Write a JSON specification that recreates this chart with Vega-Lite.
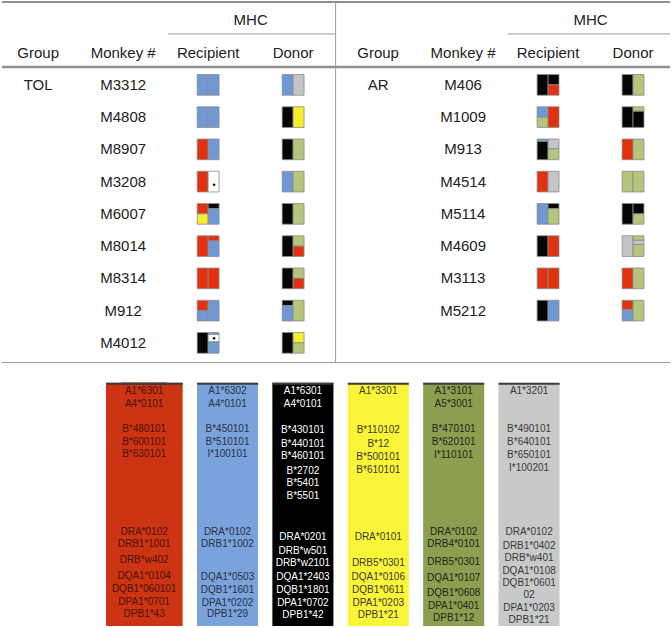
{
  "$schema": "https://vega.github.io/schema/vega-lite/v6.json",
  "width": 672,
  "height": 628,
  "autosize": {"type": "fit", "contains": "padding"},
  "padding": 0,
  "background": "white",
  "config": {"view": {"stroke": null}, "text": {"font": "Liberation Sans"}},
  "datasets": {
    "one": [{}],
    "cells": [
      {"t": "MHC", "c": 2.5, "r": -2}, {"t": "MHC", "c": 6.5, "r": -2},
      {"t": "Group", "c": 0, "r": -1}, {"t": "Monkey #", "c": 1, "r": -1}, {"t": "Recipient", "c": 2, "r": -1}, {"t": "Donor", "c": 3, "r": -1},
      {"t": "Group", "c": 4, "r": -1}, {"t": "Monkey #", "c": 5, "r": -1}, {"t": "Recipient", "c": 6, "r": -1}, {"t": "Donor", "c": 7, "r": -1},
      {"t": "TOL", "c": 0, "r": 0}, {"t": "AR", "c": 4, "r": 0},
      {"t": "M3312", "c": 1, "r": 0}, {"t": "M4808", "c": 1, "r": 1}, {"t": "M8907", "c": 1, "r": 2}, {"t": "M3208", "c": 1, "r": 3},
      {"t": "M6007", "c": 1, "r": 4}, {"t": "M8014", "c": 1, "r": 5}, {"t": "M8314", "c": 1, "r": 6}, {"t": "M912", "c": 1, "r": 7}, {"t": "M4012", "c": 1, "r": 8},
      {"t": "M406", "c": 5, "r": 0}, {"t": "M1009", "c": 5, "r": 1}, {"t": "M913", "c": 5, "r": 2}, {"t": "M4514", "c": 5, "r": 3},
      {"t": "M5114", "c": 5, "r": 4}, {"t": "M4609", "c": 5, "r": 5}, {"t": "M3113", "c": 5, "r": 6}, {"t": "M5212", "c": 5, "r": 7}
    ],
    "glyph": [
      {"c": 2, "r": 0, "h": 0, "f0": 0, "f1": 1, "a": "blue"}, {"c": 2, "r": 0, "h": 1, "f0": 0, "f1": 1, "a": "blue"},
      {"c": 3, "r": 0, "h": 0, "f0": 0, "f1": 1, "a": "blue"}, {"c": 3, "r": 0, "h": 1, "f0": 0, "f1": 1, "a": "gray"},
      {"c": 2, "r": 1, "h": 0, "f0": 0, "f1": 1, "a": "blue"}, {"c": 2, "r": 1, "h": 1, "f0": 0, "f1": 1, "a": "blue"},
      {"c": 3, "r": 1, "h": 0, "f0": 0, "f1": 1, "a": "black"}, {"c": 3, "r": 1, "h": 1, "f0": 0, "f1": 1, "a": "yellow"},
      {"c": 2, "r": 2, "h": 0, "f0": 0, "f1": 1, "a": "red"}, {"c": 2, "r": 2, "h": 1, "f0": 0, "f1": 1, "a": "blue"},
      {"c": 3, "r": 2, "h": 0, "f0": 0, "f1": 1, "a": "black"}, {"c": 3, "r": 2, "h": 1, "f0": 0, "f1": 1, "a": "green"},
      {"c": 2, "r": 3, "h": 0, "f0": 0, "f1": 1, "a": "red"}, {"c": 2, "r": 3, "h": 1, "f0": 0, "f1": 1, "a": "white"},
      {"c": 3, "r": 3, "h": 0, "f0": 0, "f1": 1, "a": "blue"}, {"c": 3, "r": 3, "h": 1, "f0": 0, "f1": 1, "a": "green"},
      {"c": 2, "r": 4, "h": 0, "f0": 0, "f1": 0.5, "a": "red"}, {"c": 2, "r": 4, "h": 0, "f0": 0.5, "f1": 1, "a": "yellow"},
      {"c": 2, "r": 4, "h": 1, "f0": 0, "f1": 0.25, "a": "black"}, {"c": 2, "r": 4, "h": 1, "f0": 0.25, "f1": 1, "a": "blue"},
      {"c": 3, "r": 4, "h": 0, "f0": 0, "f1": 1, "a": "black"}, {"c": 3, "r": 4, "h": 1, "f0": 0, "f1": 1, "a": "green"},
      {"c": 2, "r": 5, "h": 0, "f0": 0, "f1": 1, "a": "red"},
      {"c": 2, "r": 5, "h": 1, "f0": 0, "f1": 0.25, "a": "red"}, {"c": 2, "r": 5, "h": 1, "f0": 0.25, "f1": 1, "a": "blue"},
      {"c": 3, "r": 5, "h": 0, "f0": 0, "f1": 1, "a": "black"},
      {"c": 3, "r": 5, "h": 1, "f0": 0, "f1": 0.5, "a": "green"}, {"c": 3, "r": 5, "h": 1, "f0": 0.5, "f1": 1, "a": "red"},
      {"c": 2, "r": 6, "h": 0, "f0": 0, "f1": 1, "a": "red"}, {"c": 2, "r": 6, "h": 1, "f0": 0, "f1": 1, "a": "red"},
      {"c": 3, "r": 6, "h": 0, "f0": 0, "f1": 1, "a": "black"},
      {"c": 3, "r": 6, "h": 1, "f0": 0, "f1": 0.5, "a": "green"}, {"c": 3, "r": 6, "h": 1, "f0": 0.5, "f1": 1, "a": "red"},
      {"c": 2, "r": 7, "h": 0, "f0": 0, "f1": 0.5, "a": "red"}, {"c": 2, "r": 7, "h": 0, "f0": 0.5, "f1": 1, "a": "blue"},
      {"c": 2, "r": 7, "h": 1, "f0": 0, "f1": 1, "a": "blue"},
      {"c": 3, "r": 7, "h": 0, "f0": 0, "f1": 0.25, "a": "black"}, {"c": 3, "r": 7, "h": 0, "f0": 0.25, "f1": 1, "a": "blue"},
      {"c": 3, "r": 7, "h": 1, "f0": 0, "f1": 1, "a": "green"},
      {"c": 2, "r": 8, "h": 0, "f0": 0, "f1": 1, "a": "black"},
      {"c": 2, "r": 8, "h": 1, "f0": 0, "f1": 0.1, "a": "blue"}, {"c": 2, "r": 8, "h": 1, "f0": 0.1, "f1": 0.45, "a": "white"}, {"c": 2, "r": 8, "h": 1, "f0": 0.45, "f1": 1, "a": "blue"},
      {"c": 3, "r": 8, "h": 0, "f0": 0, "f1": 1, "a": "black"},
      {"c": 3, "r": 8, "h": 1, "f0": 0, "f1": 0.5, "a": "yellow"}, {"c": 3, "r": 8, "h": 1, "f0": 0.5, "f1": 1, "a": "green"},

      {"c": 6, "r": 0, "h": 0, "f0": 0, "f1": 1, "a": "black"},
      {"c": 6, "r": 0, "h": 1, "f0": 0, "f1": 0.5, "a": "black"}, {"c": 6, "r": 0, "h": 1, "f0": 0.5, "f1": 1, "a": "red"},
      {"c": 7, "r": 0, "h": 0, "f0": 0, "f1": 1, "a": "black"}, {"c": 7, "r": 0, "h": 1, "f0": 0, "f1": 1, "a": "green"},
      {"c": 6, "r": 1, "h": 0, "f0": 0, "f1": 0.5, "a": "blue"}, {"c": 6, "r": 1, "h": 0, "f0": 0.5, "f1": 1, "a": "green"},
      {"c": 6, "r": 1, "h": 1, "f0": 0, "f1": 1, "a": "red"},
      {"c": 7, "r": 1, "h": 0, "f0": 0, "f1": 1, "a": "black"},
      {"c": 7, "r": 1, "h": 1, "f0": 0, "f1": 0.22, "a": "green"}, {"c": 7, "r": 1, "h": 1, "f0": 0.22, "f1": 1, "a": "black"},
      {"c": 6, "r": 2, "h": 0, "f0": 0, "f1": 0.12, "a": "blue"}, {"c": 6, "r": 2, "h": 0, "f0": 0.12, "f1": 1, "a": "black"},
      {"c": 6, "r": 2, "h": 1, "f0": 0, "f1": 0.47, "a": "gray"}, {"c": 6, "r": 2, "h": 1, "f0": 0.47, "f1": 1, "a": "green"},
      {"c": 7, "r": 2, "h": 0, "f0": 0, "f1": 1, "a": "red"}, {"c": 7, "r": 2, "h": 1, "f0": 0, "f1": 1, "a": "green"},
      {"c": 6, "r": 3, "h": 0, "f0": 0, "f1": 1, "a": "red"}, {"c": 6, "r": 3, "h": 1, "f0": 0, "f1": 1, "a": "gray"},
      {"c": 7, "r": 3, "h": 0, "f0": 0, "f1": 1, "a": "green"}, {"c": 7, "r": 3, "h": 1, "f0": 0, "f1": 1, "a": "green"},
      {"c": 6, "r": 4, "h": 0, "f0": 0, "f1": 1, "a": "blue"},
      {"c": 6, "r": 4, "h": 1, "f0": 0, "f1": 0.25, "a": "black"}, {"c": 6, "r": 4, "h": 1, "f0": 0.25, "f1": 1, "a": "green"},
      {"c": 7, "r": 4, "h": 0, "f0": 0, "f1": 1, "a": "black"},
      {"c": 7, "r": 4, "h": 1, "f0": 0, "f1": 0.5, "a": "black"}, {"c": 7, "r": 4, "h": 1, "f0": 0.5, "f1": 1, "a": "green"},
      {"c": 6, "r": 5, "h": 0, "f0": 0, "f1": 1, "a": "black"}, {"c": 6, "r": 5, "h": 1, "f0": 0, "f1": 1, "a": "red"},
      {"c": 7, "r": 5, "h": 0, "f0": 0, "f1": 1, "a": "gray"},
      {"c": 7, "r": 5, "h": 1, "f0": 0, "f1": 0.22, "a": "green"}, {"c": 7, "r": 5, "h": 1, "f0": 0.22, "f1": 0.42, "a": "gray"}, {"c": 7, "r": 5, "h": 1, "f0": 0.42, "f1": 1, "a": "green"},
      {"c": 6, "r": 6, "h": 0, "f0": 0, "f1": 1, "a": "red"}, {"c": 6, "r": 6, "h": 1, "f0": 0, "f1": 1, "a": "red"},
      {"c": 7, "r": 6, "h": 0, "f0": 0, "f1": 1, "a": "red"}, {"c": 7, "r": 6, "h": 1, "f0": 0, "f1": 1, "a": "green"},
      {"c": 6, "r": 7, "h": 0, "f0": 0, "f1": 1, "a": "black"}, {"c": 6, "r": 7, "h": 1, "f0": 0, "f1": 1, "a": "blue"},
      {"c": 7, "r": 7, "h": 0, "f0": 0, "f1": 0.45, "a": "red"}, {"c": 7, "r": 7, "h": 0, "f0": 0.45, "f1": 1, "a": "blue"},
      {"c": 7, "r": 7, "h": 1, "f0": 0, "f1": 1, "a": "green"}
    ],
    "marks": [{"c": 2, "r": 3, "f": 0.65}, {"c": 2, "r": 8, "f": 0.28}],
    "alleles": [{"a": "red"}, {"a": "blue"}, {"a": "black"}, {"a": "yellow"}, {"a": "green"}, {"a": "gray"}],
    "lines": [
      {"a": "red", "L": 0, "t": "A1*6301"}, {"a": "red", "L": 1, "t": "A4*0101"},
      {"a": "red", "L": 2.96, "t": "B*480101"}, {"a": "red", "L": 4.02, "t": "B*600101"}, {"a": "red", "L": 5.0, "t": "B*630101"},
      {"a": "red", "L": 11.1, "t": "DRA*0102"}, {"a": "red", "L": 12.07, "t": "DRB1*1001"}, {"a": "red", "L": 13.33, "t": "DRB*w402"},
      {"a": "red", "L": 14.59, "t": "DQA1*0104"}, {"a": "red", "L": 15.61, "t": "DQB1*060101"}, {"a": "red", "L": 16.61, "t": "DPA1*0701"}, {"a": "red", "L": 17.58, "t": "DPB1*43"},
      {"a": "blue", "L": 0, "t": "A1*6302"}, {"a": "blue", "L": 1, "t": "A4*0101"},
      {"a": "blue", "L": 2.96, "t": "B*450101"}, {"a": "blue", "L": 4.02, "t": "B*510101"}, {"a": "blue", "L": 5.0, "t": "I*100101"},
      {"a": "blue", "L": 11.1, "t": "DRA*0102"}, {"a": "blue", "L": 12.07, "t": "DRB1*1002"},
      {"a": "blue", "L": 14.65, "t": "DQA1*0503"}, {"a": "blue", "L": 15.69, "t": "DQB1*1601"}, {"a": "blue", "L": 16.69, "t": "DPA1*0202"}, {"a": "blue", "L": 17.62, "t": "DPB1*29"},
      {"a": "black", "L": 0, "t": "A1*6301"}, {"a": "black", "L": 1, "t": "A4*0101"},
      {"a": "black", "L": 3.04, "t": "B*430101"}, {"a": "black", "L": 4.14, "t": "B*440101"}, {"a": "black", "L": 5.12, "t": "B*460101"},
      {"a": "black", "L": 6.3, "t": "B*2702"}, {"a": "black", "L": 7.29, "t": "B*5401"}, {"a": "black", "L": 8.29, "t": "B*5501"},
      {"a": "black", "L": 11.5, "t": "DRA*0201"}, {"a": "black", "L": 12.6, "t": "DRB*w501"}, {"a": "black", "L": 13.59, "t": "DRB*w2101"},
      {"a": "black", "L": 14.65, "t": "DQA1*2403"}, {"a": "black", "L": 15.69, "t": "DQB1*1801"}, {"a": "black", "L": 16.69, "t": "DPA1*0702"}, {"a": "black", "L": 17.66, "t": "DPB1*42"},
      {"a": "yellow", "L": 0, "t": "A1*3301"},
      {"a": "yellow", "L": 3.09, "t": "B*110102"}, {"a": "yellow", "L": 4.2, "t": "B*12"}, {"a": "yellow", "L": 5.2, "t": "B*500101"}, {"a": "yellow", "L": 6.24, "t": "B*610101"},
      {"a": "yellow", "L": 11.5, "t": "DRA*0101"}, {"a": "yellow", "L": 13.54, "t": "DRB5*0301"},
      {"a": "yellow", "L": 14.65, "t": "DQA1*0106"}, {"a": "yellow", "L": 15.69, "t": "DQB1*0611"}, {"a": "yellow", "L": 16.69, "t": "DPA1*0203"}, {"a": "yellow", "L": 17.66, "t": "DPB1*21"},
      {"a": "green", "L": 0, "t": "A1*3101"}, {"a": "green", "L": 1, "t": "A5*3001"},
      {"a": "green", "L": 3.02, "t": "B*470101"}, {"a": "green", "L": 4.06, "t": "B*620101"}, {"a": "green", "L": 5.06, "t": "I*110101"},
      {"a": "green", "L": 11.1, "t": "DRA*0102"}, {"a": "green", "L": 12.09, "t": "DRB4*0101"}, {"a": "green", "L": 13.46, "t": "DRB5*0301"},
      {"a": "green", "L": 14.77, "t": "DQA1*0107"}, {"a": "green", "L": 15.91, "t": "DQB1*0608"}, {"a": "green", "L": 16.95, "t": "DPA1*0401"}, {"a": "green", "L": 17.9, "t": "DPB1*12"},
      {"a": "gray", "L": 0, "t": "A1*3201"},
      {"a": "gray", "L": 2.99, "t": "B*490101"}, {"a": "gray", "L": 4.06, "t": "B*640101"}, {"a": "gray", "L": 5.06, "t": "B*650101"}, {"a": "gray", "L": 6.06, "t": "I*100201"},
      {"a": "gray", "L": 11.15, "t": "DRA*0102"}, {"a": "gray", "L": 12.2, "t": "DRB1*0402"}, {"a": "gray", "L": 13.2, "t": "DRB*w401"},
      {"a": "gray", "L": 14.17, "t": "DQA1*0108"}, {"a": "gray", "L": 15.17, "t": "DQB1*0601"}, {"a": "gray", "L": 16.09, "t": "02"},
      {"a": "gray", "L": 17.09, "t": "DPA1*0203"}, {"a": "gray", "L": 18.06, "t": "DPB1*21"}
    ]
  },
  "layer": [
    {
      "layer": [
        {
          "data": {"name": "one"},
          "mark": {"type": "rule", "color": "#8f8f8f", "strokeWidth": 2},
          "encoding": {
            "x": {"datum": -0.4258, "type": "quantitative", "scale": {"domain": [-0.4258, 7.435], "nice": false, "zero": false}, "axis": null},
            "x2": {"datum": 7.435},
            "y": {"datum": -2.57, "type": "quantitative", "scale": {"domain": [-2.6006, 16.842], "reverse": true, "nice": false, "zero": false}, "axis": null}
          }
        },
        {
          "data": {"name": "one"},
          "mark": {"type": "rule", "color": "#8f8f8f", "strokeWidth": 2.5},
          "encoding": {
            "x": {"datum": -0.4258, "type": "quantitative", "scale": {"domain": [-0.4258, 7.435], "nice": false, "zero": false}, "axis": null},
            "x2": {"datum": 7.435},
            "y": {"datum": -0.557, "type": "quantitative", "scale": {"domain": [-2.6006, 16.842], "reverse": true, "nice": false, "zero": false}, "axis": null}
          }
        },
        {
          "data": {"name": "one"},
          "mark": {"type": "rule", "color": "#9a9a9a", "strokeWidth": 1},
          "encoding": {
            "x": {"datum": -0.4258, "type": "quantitative", "scale": {"domain": [-0.4258, 7.435], "nice": false, "zero": false}, "axis": null},
            "x2": {"datum": 7.435},
            "y": {"datum": 8.61, "type": "quantitative", "scale": {"domain": [-2.6006, 16.842], "reverse": true, "nice": false, "zero": false}, "axis": null}
          }
        },
        {
          "data": {"name": "one"},
          "mark": {"type": "rule", "color": "#9a9a9a", "strokeWidth": 1},
          "encoding": {
            "x": {"datum": 1.53, "type": "quantitative", "scale": {"domain": [-0.4258, 7.435], "nice": false, "zero": false}, "axis": null},
            "x2": {"datum": 3.5},
            "y": {"datum": -1.579, "type": "quantitative", "scale": {"domain": [-2.6006, 16.842], "reverse": true, "nice": false, "zero": false}, "axis": null}
          }
        },
        {
          "data": {"name": "one"},
          "mark": {"type": "rule", "color": "#9a9a9a", "strokeWidth": 1},
          "encoding": {
            "x": {"datum": 5.53, "type": "quantitative", "scale": {"domain": [-0.4258, 7.435], "nice": false, "zero": false}, "axis": null},
            "x2": {"datum": 7.435},
            "y": {"datum": -1.579, "type": "quantitative", "scale": {"domain": [-2.6006, 16.842], "reverse": true, "nice": false, "zero": false}, "axis": null}
          }
        },
        {
          "data": {"name": "one"},
          "mark": {"type": "rule", "color": "#9a9a9a", "strokeWidth": 1},
          "encoding": {
            "x": {"datum": 3.5, "type": "quantitative", "scale": {"domain": [-0.4258, 7.435], "nice": false, "zero": false}, "axis": null},
            "y": {"datum": -2.6, "type": "quantitative", "scale": {"domain": [-2.6006, 16.842], "reverse": true, "nice": false, "zero": false}, "axis": null},
            "y2": {"datum": 8.61}
          }
        },
        {
          "data": {"name": "cells"},
          "mark": {"type": "text", "fontSize": 15, "color": "#222222", "align": "center", "baseline": "middle", "font": "Liberation Sans"},
          "encoding": {
            "x": {"field": "c", "type": "quantitative", "scale": {"domain": [-0.4258, 7.435], "nice": false, "zero": false}, "axis": null},
            "y": {"field": "r", "type": "quantitative", "scale": {"domain": [-2.6006, 16.842], "reverse": true, "nice": false, "zero": false}, "axis": null},
            "text": {"field": "t"}
          }
        },
        {
          "data": {"name": "glyph"},
          "transform": [
            {"calculate": "datum.c + (datum.h - 1) * 0.1287", "as": "x0"},
            {"calculate": "datum.c + datum.h * 0.1287", "as": "x1"},
            {"calculate": "datum.r - 0.32 + datum.f0 * 0.641", "as": "y0"},
            {"calculate": "datum.r - 0.32 + datum.f1 * 0.641", "as": "y1"}
          ],
          "mark": {"type": "rect", "stroke": "#8a8a8a", "strokeWidth": 0.8},
          "encoding": {
            "x": {"field": "x0", "type": "quantitative", "scale": {"domain": [-0.4258, 7.435], "nice": false, "zero": false}, "axis": null},
            "x2": {"field": "x1"},
            "y": {"field": "y0", "type": "quantitative", "scale": {"domain": [-2.6006, 16.842], "reverse": true, "nice": false, "zero": false}, "axis": null},
            "y2": {"field": "y1"},
            "color": {"field": "a", "type": "nominal", "legend": null,
              "scale": {"domain": ["red", "blue", "black", "yellow", "green", "gray", "white"],
                        "range": ["#e0320f", "#6f98d4", "#050505", "#f6ee2a", "#b5c57b", "#c5c5c5", "#ffffff"]}}
          }
        },
        {
          "data": {"name": "marks"},
          "transform": [
            {"calculate": "datum.c + 0.07", "as": "mx"},
            {"calculate": "datum.r - 0.32 + datum.f * 0.641", "as": "my"}
          ],
          "mark": {"type": "point", "filled": true, "shape": "circle", "size": 7, "color": "#111111", "opacity": 1},
          "encoding": {
            "x": {"field": "mx", "type": "quantitative", "scale": {"domain": [-0.4258, 7.435], "nice": false, "zero": false}, "axis": null},
            "y": {"field": "my", "type": "quantitative", "scale": {"domain": [-2.6006, 16.842], "reverse": true, "nice": false, "zero": false}, "axis": null}
          }
        }
      ]
    },
    {
      "layer": [
        {
          "data": {"name": "alleles"},
          "mark": {"type": "bar"},
          "encoding": {
            "x": {"field": "a", "type": "nominal", "axis": null, "scale": {"type": "band", "domain": ["red", "blue", "black", "yellow", "green", "gray"], "range": [119.6, 557.6], "paddingInner": 0.19, "paddingOuter": 0}},
            "y": {"datum": -0.66, "type": "quantitative", "axis": null, "scale": {"domain": [-30.76, 18.69], "reverse": true, "nice": false, "zero": false}},
            "y2": {"datum": 18.53},
            "color": {"field": "a", "type": "nominal", "legend": null,
              "scale": {"domain": ["red", "blue", "black", "yellow", "green", "gray"],
                        "range": ["#cc3414", "#7aa2dc", "#000000", "#fbf53a", "#8c9f50", "#c9c9c9"]}}
          }
        },
        {
          "data": {"name": "alleles"},
          "transform": [{"filter": "datum.a == 'red'"}],
          "mark": {"type": "bar", "xOffset": -15.6, "color": "#cc3414"},
          "encoding": {
            "x": {"field": "a", "type": "nominal", "axis": null, "scale": {"type": "band", "domain": ["red", "blue", "black", "yellow", "green", "gray"], "range": [119.6, 557.6], "paddingInner": 0.19, "paddingOuter": 0}},
            "y": {"datum": -0.66, "type": "quantitative", "axis": null, "scale": {"domain": [-30.76, 18.69], "reverse": true, "nice": false, "zero": false}},
            "y2": {"datum": 18.53}
          }
        },
        {
          "data": {"name": "alleles"},
          "mark": {"type": "bar", "color": "#3d3d3d"},
          "encoding": {
            "x": {"field": "a", "type": "nominal", "axis": null, "scale": {"type": "band", "domain": ["red", "blue", "black", "yellow", "green", "gray"], "range": [119.6, 557.6], "paddingInner": 0.19, "paddingOuter": 0}},
            "y": {"datum": -0.66, "type": "quantitative", "axis": null, "scale": {"domain": [-30.76, 18.69], "reverse": true, "nice": false, "zero": false}},
            "y2": {"datum": -0.5}
          }
        },
        {
          "data": {"name": "alleles"},
          "transform": [{"filter": "datum.a == 'red'"}],
          "mark": {"type": "bar", "xOffset": -15.6, "color": "#3d3d3d"},
          "encoding": {
            "x": {"field": "a", "type": "nominal", "axis": null, "scale": {"type": "band", "domain": ["red", "blue", "black", "yellow", "green", "gray"], "range": [119.6, 557.6], "paddingInner": 0.19, "paddingOuter": 0}},
            "y": {"datum": -0.66, "type": "quantitative", "axis": null, "scale": {"domain": [-30.76, 18.69], "reverse": true, "nice": false, "zero": false}},
            "y2": {"datum": -0.5}
          }
        },
        {
          "data": {"name": "lines"},
          "transform": [{"filter": "datum.a != 'red'"}],
          "mark": {"type": "text", "fontSize": 10, "align": "center", "baseline": "middle", "font": "Liberation Sans"},
          "encoding": {
            "x": {"field": "a", "type": "nominal", "axis": null, "scale": {"type": "band", "domain": ["red", "blue", "black", "yellow", "green", "gray"], "range": [119.6, 557.6], "paddingInner": 0.19, "paddingOuter": 0}},
            "y": {"field": "L", "type": "quantitative", "axis": null, "scale": {"domain": [-30.76, 18.69], "reverse": true, "nice": false, "zero": false}},
            "text": {"field": "t"},
            "color": {"field": "a", "type": "nominal", "legend": null,
              "scale": {"domain": ["red", "blue", "black", "yellow", "green", "gray"],
                        "range": ["#4a1208", "#2a3344", "#ffffff", "#3a3a2a", "#22261a", "#3a3a3a"]}}
          }
        },
        {
          "data": {"name": "lines"},
          "transform": [{"filter": "datum.a == 'red'"}],
          "mark": {"type": "text", "fontSize": 10, "align": "center", "baseline": "middle", "font": "Liberation Sans", "xOffset": -8, "color": "#4a1208"},
          "encoding": {
            "x": {"field": "a", "type": "nominal", "axis": null, "scale": {"type": "band", "domain": ["red", "blue", "black", "yellow", "green", "gray"], "range": [119.6, 557.6], "paddingInner": 0.19, "paddingOuter": 0}},
            "y": {"field": "L", "type": "quantitative", "axis": null, "scale": {"domain": [-30.76, 18.69], "reverse": true, "nice": false, "zero": false}},
            "text": {"field": "t"}
          }
        }
      ],
      "resolve": {"scale": {"color": "independent"}}
    }
  ],
  "resolve": {"scale": {"x": "independent", "y": "independent", "color": "independent"}}
}
